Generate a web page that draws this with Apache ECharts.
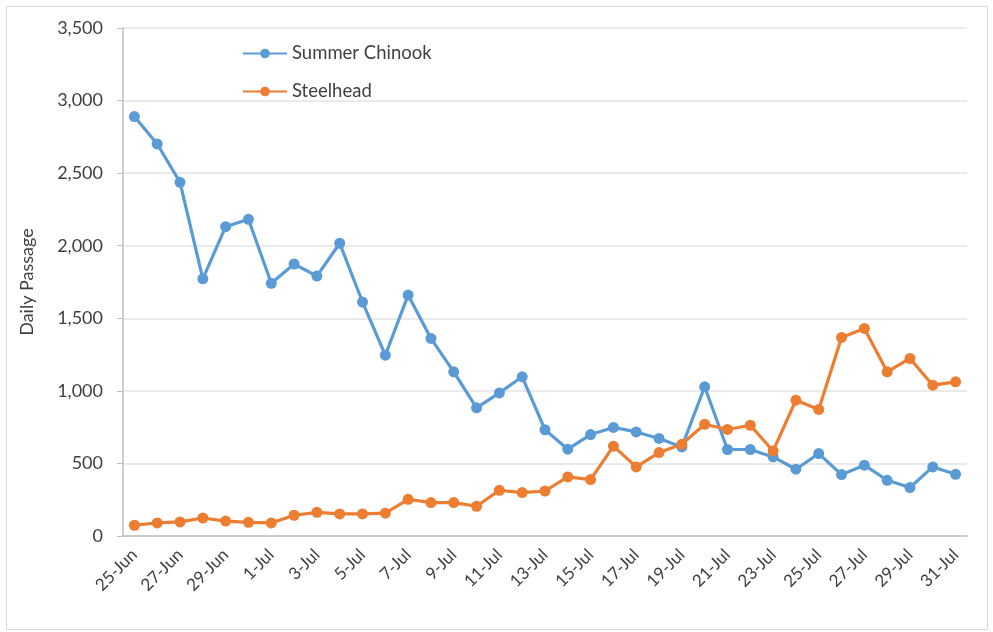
<!DOCTYPE html>
<html>
<head>
<meta charset="utf-8">
<script src="https://cdn.jsdelivr.net/npm/echarts@6/dist/echarts.min.js"></script>
<style>html,body{margin:0;padding:0;background:#fff;}#c{width:993px;height:632px;}</style>
</head>
<body>
<div id="c"></div>
<script>
var categories = ['25-Jun','26-Jun','27-Jun','28-Jun','29-Jun','30-Jun','1-Jul','2-Jul','3-Jul','4-Jul','5-Jul','6-Jul','7-Jul','8-Jul','9-Jul','10-Jul','11-Jul','12-Jul','13-Jul','14-Jul','15-Jul','16-Jul','17-Jul','18-Jul','19-Jul','20-Jul','21-Jul','22-Jul','23-Jul','24-Jul','25-Jul','26-Jul','27-Jul','28-Jul','29-Jul','30-Jul','31-Jul'];
var summerChinook = [2890,2701,2437,1772,2131,2182,1741,1874,1791,2017,1612,1246,1660,1361,1131,883,986,1097,732,598,699,748,717,672,614,1028,596,596,545,460,568,423,488,384,334,476,425];
var steelhead = [74,90,97,124,103,94,90,143,163,152,152,157,253,230,230,205,315,299,310,407,389,619,476,575,632,770,734,763,586,936,872,1368,1430,1131,1223,1039,1062];
var yTicks = {min:0, max:3500, interval:500};

var chart = echarts.init(document.getElementById('c'));
var font = 'Lato, "Open Sans", sans-serif';
chart.setOption({
  animation:false,
  backgroundColor:'#fff',
  graphic:[{type:'rect',shape:{x:6.5,y:6.5,width:981,height:623},style:{fill:'none',stroke:'#d9d9d9',lineWidth:1}}],
  legend:{
    orient:'vertical', left:237, top:39, itemGap:19, itemWidth:44, itemHeight:12,
    textStyle:{fontFamily:font,fontSize:18.5,color:'#404040'},
    data:['Summer Chinook','Steelhead']
  },
  grid:{left:123,right:26,top:28,bottom:96,containLabel:false},
  xAxis:{
    type:'category', data:categories, boundaryGap:true,
    axisLine:{lineStyle:{color:'#bfbfbf',width:1.5}},
    axisTick:{show:false},
    axisLabel:{interval:1,rotate:45,margin:16,fontFamily:font,fontSize:17,color:'#404040'}
  },
  yAxis:{
    type:'value', min:yTicks.min, max:yTicks.max, interval:yTicks.interval,
    name:'Daily Passage', nameLocation:'middle', nameGap:87, nameRotate:90,
    nameTextStyle:{fontFamily:font,fontSize:18,color:'#404040'},
    axisLine:{show:true,lineStyle:{color:'#bfbfbf',width:1.5}},
    axisTick:{show:true,length:6,lineStyle:{color:'#bfbfbf'}},
    axisLabel:{margin:20,fontFamily:font,fontSize:18,color:'#404040',
      formatter:function(v){return v.toLocaleString('en-US');}},
    splitLine:{lineStyle:{color:'#e3e3e3',width:1.5}}
  },
  series:[
    {name:'Summer Chinook',type:'line',data:summerChinook,symbol:'circle',symbolSize:11,
     lineStyle:{color:'#5B9BD5',width:3.2},itemStyle:{color:'#5B9BD5'}},
    {name:'Steelhead',type:'line',data:steelhead,symbol:'circle',symbolSize:11,
     lineStyle:{color:'#ED7D31',width:3.2},itemStyle:{color:'#ED7D31'}}
  ]
});
</script>
</body>
</html>
